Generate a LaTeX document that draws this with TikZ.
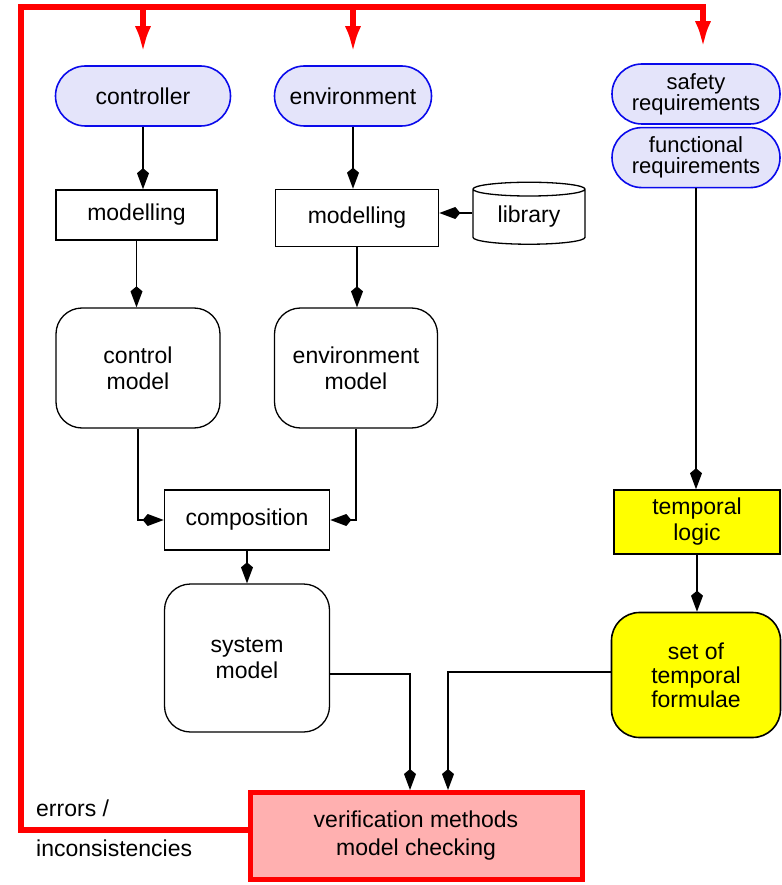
\documentclass[tikz,border=0pt]{standalone}
\usepackage{fontspec}
\setmainfont{Liberation Sans}
\usetikzlibrary{positioning}
\usetikzlibrary{arrows.meta}
\usetikzlibrary{shapes.geometric}

\definecolor{pillblue}{RGB}{228,228,250}
\definecolor{pillline}{RGB}{10,10,235}
\definecolor{errred}{RGB}{255,0,0}
\definecolor{verifpink}{RGB}{255,176,176}
\definecolor{tlyellow}{RGB}{255,255,0}

\tikzset{
  txt/.style={font=\fontsize{23}{26}\selectfont, align=center, inner sep=0pt},
  pill/.style={txt, draw=pillline, fill=pillblue, line width=1.6pt, rounded corners=30pt},
  plainbox/.style={txt, draw, line width=1.6pt},
  modelbox/.style={txt, draw, line width=1.3pt, rounded corners=26pt},
  blk/.style={draw, line width=1.8pt, -{Kite[length=21pt,width=12pt,inset=5pt]}},
  redline/.style={draw=errred, line width=5.5pt},
  redtip/.style={redline, -{Latex[length=27pt,width=16pt]}}
}

\begin{document}
\begin{tikzpicture}[x=1pt,y=-1pt]
		\useasboundingbox (0,0) rectangle (781,885);
		% inputs
		\node[pill, minimum width=175pt, minimum height=60pt] (ctrl) at (143,96) {controller};
		\node[pill, minimum width=157pt, minimum height=60pt] (env) at (353,96) {environment};
		\node[pill, minimum width=168pt, minimum height=60pt, font=\fontsize{22}{21}\selectfont] (safe) at (696,94) {safety\\requirements};
		\node[pill, minimum width=168pt, minimum height=60pt, font=\fontsize{22}{21}\selectfont, below=2pt of safe] (func) {functional\\requirements};
		% modelling
		\node[plainbox, minimum width=161pt, minimum height=50pt] (mod1) at (136.5,215) {modelling};
		\node[plainbox, minimum width=163pt, minimum height=57pt] (mod2) at (357,218) {modelling};
		\node[txt, cylinder, shape border rotate=90, aspect=0.22, draw, line width=1.3pt, minimum width=112pt, minimum height=62pt] (lib) at (529,217) {library};
		\node[modelbox, minimum width=164pt, minimum height=120pt] (cmodel) at (138,368) {control\\model};
		\node[modelbox, minimum width=163pt, minimum height=120pt] (emodel) at (356,368) {environment\\model};
		\node[plainbox, minimum width=165pt, minimum height=60pt] (comp) at (247,520) {composition};
		\node[modelbox, minimum width=165pt, minimum height=148pt] (smodel) at (247,658) {system\\model};
		% temporal side
		\node[plainbox, fill=tlyellow, minimum width=166pt, minimum height=64pt] (tlogic) at (697,522) {temporal\\logic};
		\node[modelbox, fill=tlyellow, line width=1.6pt, rounded corners=28pt, minimum width=169pt, minimum height=125pt, font=\fontsize{23}{24}\selectfont] (tform) at (696,675) {set of\\temporal\\formulae};
		% checking
		\node[txt, draw=errred, line width=5pt, fill=verifpink, minimum width=332pt, minimum height=87pt, font=\fontsize{23}{28}\selectfont] (verif) at (416,836) {verification methods\\model checking};
		\node[txt, anchor=west, align=left, font=\fontsize{23}{40}\selectfont] (errlbl) at (36,828) {errors /\\inconsistencies};

		\path[blk] (ctrl) -- (ctrl |- mod1.north);
		\path[blk] (env) -- (env |- mod2.north);
		\path[blk] (mod1) -- (mod1 |- cmodel.north);
		\path[blk] (mod2) -- (mod2 |- emodel.north);
		\path[blk] ([yshift=4pt]lib.west) -- ([yshift=4pt]lib.west -| mod2.east);
		\path[blk] (cmodel.south) |- (comp.west);
		\path[blk] (emodel.south) |- (comp.east);
		\path[blk] (comp) -- (smodel);
		\path[blk] ([yshift=-16pt]smodel.east) -| ([xshift=-6pt]verif.north);
		\path[blk] ([yshift=3pt]tform.west) -| ([xshift=32pt]verif.north);
		\path[blk] (func) -- (func |- tlogic.north);
		\path[blk] (tlogic) -- (tlogic |- tform.north);

		% feedback
		\coordinate (errtop) at (21,7);
		\path[redtip] ([yshift=6pt]verif.west) -| (errtop) -| ([xshift=7pt,yshift=15pt]safe.north);
		\path[redtip] (errtop -| ctrl.north) -- ([yshift=12pt]ctrl.north);
		\path[redtip] (errtop -| env.north) -- ([yshift=12pt]env.north);
	\end{tikzpicture}
\end{document}
